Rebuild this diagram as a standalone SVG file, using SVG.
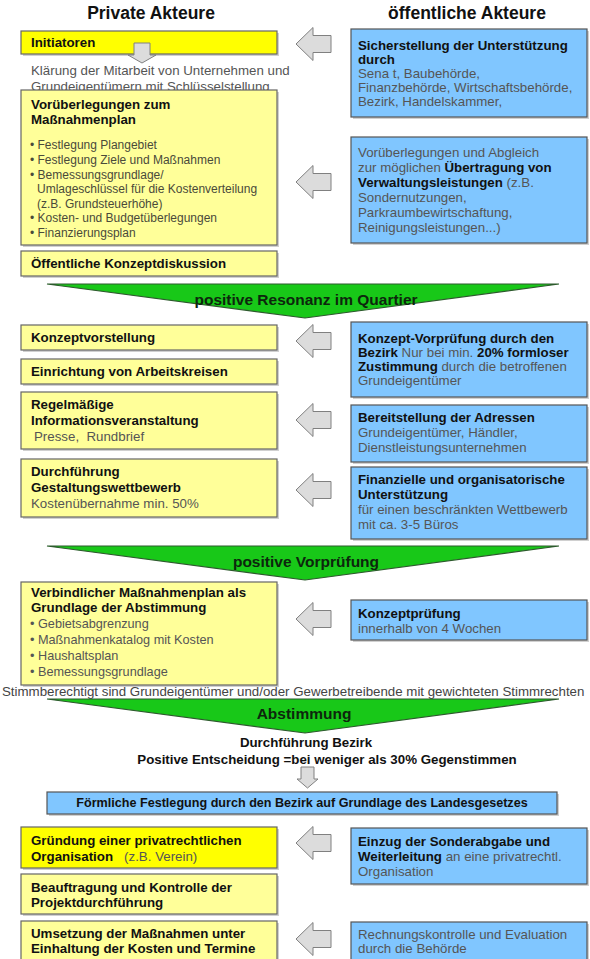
<svg xmlns="http://www.w3.org/2000/svg" xmlns:xlink="http://www.w3.org/1999/xlink" width="590" height="959" viewBox="0 0 590 959">
<style>
text{font-family:"Liberation Sans",Arial,Helvetica,sans-serif;font-size:13.3px;fill:#555}
.b{font-weight:bold;fill:#111}
.h{font-weight:bold;font-size:17.5px;fill:#111}
.s{font-size:12px;fill:#4a4a3a}
.band{font-weight:bold;font-size:15.5px;fill:#0d260d}
.c{text-anchor:middle}
.py{fill:#FFFF99;stroke:#666;stroke-width:1.2}
.by{fill:#FFFF00;stroke:#666;stroke-width:1.2}
.bl{fill:#80C6FF;stroke:#555;stroke-width:1.2}
.sh{fill:#aaa;opacity:.55}
.gr{fill:#18C818;stroke:#2d5a2d;stroke-width:1.2}
.ar{fill:#DCDCDC;stroke:#808080;stroke-width:1}
</style>
<defs>
<path id="la" d="M0,0 L17,-16.5 L17,-8.5 L35,-8.5 L35,8.5 L17,8.5 L17,16.5 Z"/>
</defs>
<rect width="590" height="959" fill="#fff"/>

<g id="titles">
<text class="h c" x="151" y="19">Private Akteure</text>
<text class="h c" x="467" y="19">öffentliche Akteure</text>
</g>

<!-- Left column -->
<g id="n_init">
<rect class="sh" x="23" y="33" width="256" height="23"/>
<rect class="by" x="21" y="31" width="256" height="23"/>
<text class="b" x="31" y="47">Initiatoren</text>
</g>
<g id="n_klaerung">
<text x="31" y="75">Klärung der Mitarbeit von Unternehmen und</text>
<text x="31" y="91">Grundeigentümern mit Schlüsselstellung</text>
</g>
<g id="n_vor">
<rect class="sh" x="23" y="92" width="256" height="155"/>
<rect class="py" x="21" y="90" width="256" height="155"/>
<text class="b" x="31" y="109">Vorüberlegungen zum</text>
<text class="b" x="31" y="124">Maßnahmenplan</text>
<text class="s" x="30" y="149">• Festlegung Plangebiet</text>
<text class="s" x="30" y="164">• Festlegung Ziele und Maßnahmen</text>
<text class="s" x="30" y="178.5">• Bemessungsgrundlage/</text>
<text class="s" x="37" y="193">Umlageschlüssel für die Kostenverteilung</text>
<text class="s" x="37" y="207.5">(z.B. Grundsteuerhöhe)</text>
<text class="s" x="30" y="222">• Kosten- und Budgetüberlegungen</text>
<text class="s" x="30" y="236.5">• Finanzierungsplan</text>
</g>
<g id="n_oeff">
<rect class="sh" x="23" y="253" width="256" height="25"/>
<rect class="py" x="21" y="251" width="256" height="25"/>
<text class="b" x="31" y="268">Öffentliche Konzeptdiskussion</text>
</g>

<g id="band1">
<polygon class="gr" points="47,284 559,284 305,318"/>
<text class="band c" x="306" y="305">positive Resonanz im Quartier</text>
</g>

<g id="n_konz">
<rect class="sh" x="23" y="327" width="256" height="25"/>
<rect class="py" x="21" y="325" width="256" height="25"/>
<text class="b" x="31" y="342">Konzeptvorstellung</text>
</g>
<g id="n_einr">
<rect class="sh" x="23" y="361" width="256" height="25"/>
<rect class="py" x="21" y="359" width="256" height="25"/>
<text class="b" x="31" y="376">Einrichtung von Arbeitskreisen</text>
</g>
<g id="n_regel">
<rect class="sh" x="23" y="394" width="256" height="57"/>
<rect class="py" x="21" y="392" width="256" height="57"/>
<text class="b" x="31" y="409">Regelmäßige</text>
<text class="b" x="31" y="425">Informationsveranstaltung</text>
<text x="34" y="441" xml:space="preserve">Presse,  Rundbrief</text>
</g>
<g id="n_durch">
<rect class="sh" x="23" y="461" width="256" height="58"/>
<rect class="py" x="21" y="459" width="256" height="58"/>
<text class="b" x="31" y="476">Durchführung</text>
<text class="b" x="31" y="492">Gestaltungswettbewerb</text>
<text x="31" y="508">Kostenübernahme min. 50%</text>
</g>

<g id="band2">
<polygon class="gr" points="47,546 559,546 305,580"/>
<text class="band c" x="306" y="567">positive Vorprüfung</text>
</g>

<g id="n_verb">
<rect class="sh" x="23" y="584" width="256" height="103"/>
<rect class="py" x="21" y="582" width="256" height="103"/>
<text class="b" x="31" y="597">Verbindlicher Maßnahmenplan als</text>
<text class="b" x="31" y="612">Grundlage der Abstimmung</text>
<text x="30" y="628" style="font-size:12.7px">• Gebietsabgrenzung</text>
<text x="30" y="644" style="font-size:12.7px">• Maßnahmenkatalog mit Kosten</text>
<text x="30" y="660" style="font-size:12.7px">• Haushaltsplan</text>
<text x="30" y="676" style="font-size:12.7px">• Bemessungsgrundlage</text>
</g>
<g id="n_stimm">
<text x="2" y="696" style="fill:#444;font-size:13.3px">Stimmberechtigt sind Grundeigentümer und/oder Gewerbetreibende mit gewichteten Stimmrechten</text>
</g>

<g id="band3">
<polygon class="gr" points="47,699 559,699 305,733"/>
<text class="band c" x="304" y="719">Abstimmung</text>
</g>
<g id="n_durchf">
<text class="b c" x="306" y="747">Durchführung Bezirk</text>
<text class="b c" x="327" y="764">Positive Entscheidung =bei weniger als 30% Gegenstimmen</text>
</g>

<g id="n_foerm">
<rect class="sh" x="49" y="794" width="510" height="22"/>
<rect class="bl" x="47" y="792" width="510" height="22"/>
<text class="b c" x="302" y="807" style="font-size:12.6px">Förmliche Festlegung durch den Bezirk auf Grundlage des Landesgesetzes</text>
</g>

<g id="n_gruend">
<rect class="sh" x="23" y="829" width="256" height="41"/>
<rect class="by" x="21" y="827" width="256" height="41"/>
<text class="b" x="31" y="845">Gründung einer privatrechtlichen</text>
<text x="31" y="861" xml:space="preserve"><tspan class="b">Organisation</tspan>   (z.B. Verein)</text>
</g>
<g id="n_beauf">
<rect class="sh" x="23" y="876" width="256" height="40"/>
<rect class="py" x="21" y="874" width="256" height="40"/>
<text class="b" x="31" y="892">Beauftragung und Kontrolle der</text>
<text class="b" x="31" y="907">Projektdurchführung</text>
</g>
<g id="n_ums">
<rect class="sh" x="23" y="923" width="256" height="45"/>
<rect class="py" x="21" y="921" width="256" height="45"/>
<text class="b" x="31" y="938">Umsetzung der Maßnahmen unter</text>
<text class="b" x="31" y="953">Einhaltung der Kosten und Termine</text>
</g>

<!-- Right column -->
<g id="r_sicher">
<rect class="sh" x="353" y="31" width="236" height="88"/>
<rect class="bl" x="351" y="29" width="236" height="88"/>
<text class="b" x="358" y="50">Sicherstellung der Unterstützung</text>
<text class="b" x="358" y="64">durch</text>
<text x="358" y="78">Sena t, Baubehörde,</text>
<text x="358" y="92">Finanzbehörde, Wirtschaftsbehörde,</text>
<text x="358" y="106">Bezirk, Handelskammer,</text>
</g>
<g id="r_vorueb">
<rect class="sh" x="353" y="139" width="236" height="106"/>
<rect class="bl" x="351" y="137" width="236" height="106"/>
<text x="358" y="157">Vorüberlegungen und Abgleich</text>
<text x="358" y="172">zur möglichen <tspan class="b">Übertragung von</tspan></text>
<text x="358" y="187"><tspan class="b">Verwaltungsleistungen</tspan> (z.B.</text>
<text x="358" y="202">Sondernutzungen,</text>
<text x="358" y="217">Parkraumbewirtschaftung,</text>
<text x="358" y="232">Reinigungsleistungen...)</text>
</g>
<g id="r_vorpr">
<rect class="sh" x="353" y="324" width="236" height="75"/>
<rect class="bl" x="351" y="322" width="236" height="75"/>
<text class="b" x="358" y="343">Konzept-Vorprüfung durch den</text>
<text x="358" y="357"><tspan class="b">Bezirk</tspan> Nur bei min. <tspan class="b">20% formloser</tspan></text>
<text x="358" y="371"><tspan class="b">Zustimmung</tspan> durch die betroffenen</text>
<text x="358" y="385">Grundeigentümer</text>
</g>
<g id="r_adr">
<rect class="sh" x="353" y="407" width="236" height="57"/>
<rect class="bl" x="351" y="405" width="236" height="57"/>
<text class="b" x="358" y="422">Bereitstellung der Adressen</text>
<text x="358" y="437">Grundeigentümer, Händler,</text>
<text x="358" y="452">Dienstleistungsunternehmen</text>
</g>
<g id="r_fin">
<rect class="sh" x="353" y="469" width="236" height="72"/>
<rect class="bl" x="351" y="467" width="236" height="72"/>
<text class="b" x="358" y="484">Finanzielle und organisatorische</text>
<text class="b" x="358" y="499">Unterstützung</text>
<text x="358" y="514">für einen beschränkten Wettbewerb</text>
<text x="358" y="529">mit ca. 3-5 Büros</text>
</g>
<g id="r_kpr">
<rect class="sh" x="353" y="602" width="236" height="40"/>
<rect class="bl" x="351" y="600" width="236" height="40"/>
<text class="b" x="358" y="618">Konzeptprüfung</text>
<text x="358" y="633">innerhalb von 4 Wochen</text>
</g>
<g id="r_einzug">
<rect class="sh" x="353" y="830" width="236" height="56"/>
<rect class="bl" x="351" y="828" width="236" height="56"/>
<text class="b" x="358" y="846">Einzug der Sonderabgabe und</text>
<text x="358" y="861"><tspan class="b">Weiterleitung</tspan> an eine privatrechtl.</text>
<text x="358" y="876">Organisation</text>
</g>
<g id="r_rech">
<rect class="sh" x="353" y="924" width="236" height="45"/>
<rect class="bl" x="351" y="922" width="236" height="45"/>
<text x="358" y="939">Rechnungskontrolle und Evaluation</text>
<text x="358" y="953">durch die Behörde</text>
</g>

<g id="connectors">
<path class="ar" d="M134,43 L150,43 L150,55 L156,55 L142,63 L128,55 L134,55 Z"/>
<use class="ar" xlink:href="#la" href="#la" x="296" y="44"/>
<use class="ar" xlink:href="#la" href="#la" x="296" y="182"/>
<use class="ar" xlink:href="#la" href="#la" x="296" y="341"/>
<use class="ar" xlink:href="#la" href="#la" x="296" y="420"/>
<use class="ar" xlink:href="#la" href="#la" x="296" y="490"/>
<use class="ar" xlink:href="#la" href="#la" x="296" y="619"/>
<use class="ar" xlink:href="#la" href="#la" x="296" y="843"/>
<use class="ar" xlink:href="#la" href="#la" x="296" y="939"/>
<path class="ar" d="M301,767 L314,767 L314,779 L318,779 L307.5,788 L297,779 L301,779 Z"/>
</g>
</svg>
